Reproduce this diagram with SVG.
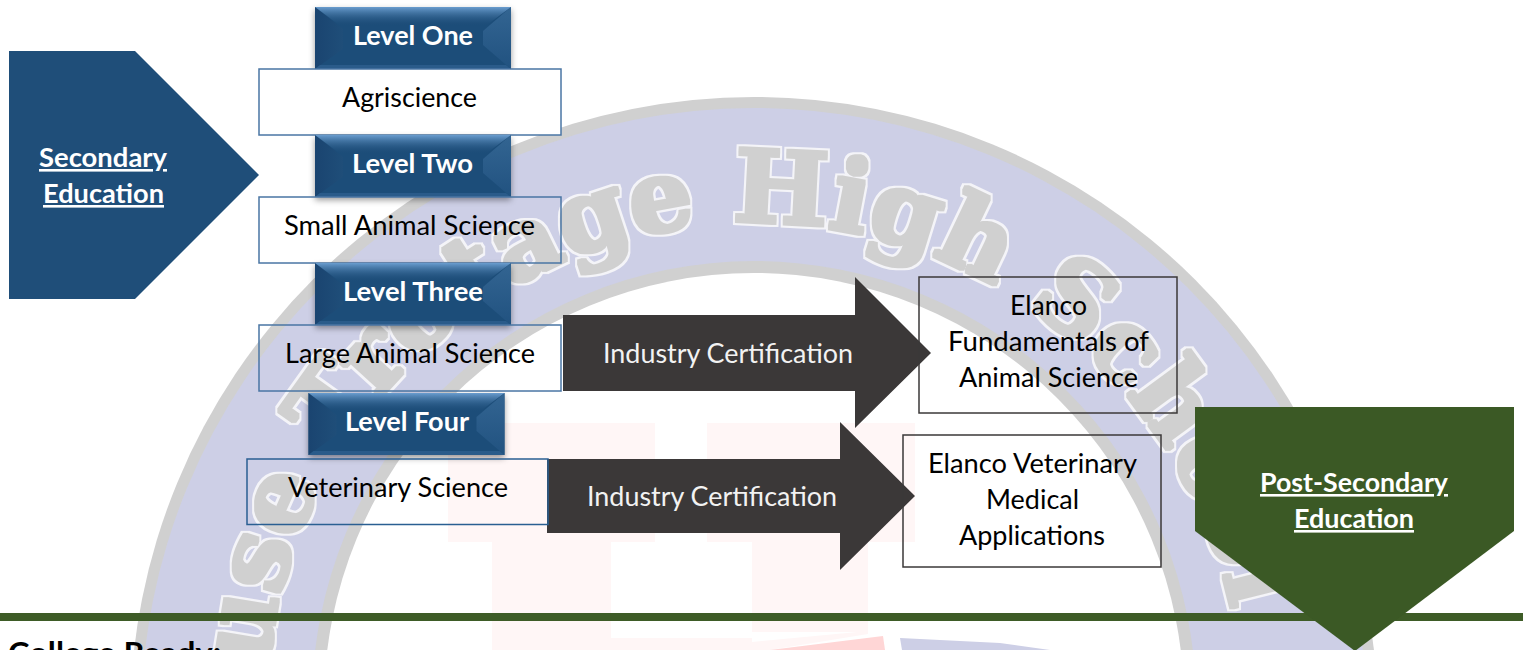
<svg xmlns="http://www.w3.org/2000/svg" xmlns:xlink="http://www.w3.org/1999/xlink" width="1523" height="650" viewBox="0 0 1523 650">
<style>
text{font-family:"Lato","Carlito","Liberation Sans",sans-serif;font-size:26px;text-anchor:start}
.dark{fill:#000}
.light{fill:#f2f2f2}
.bold{font-weight:700;fill:#fff}
.u{text-decoration:underline}
.box{fill:none;stroke:#4a76a4;stroke-width:1.5}
.box4{fill:none;stroke:#2a5f92;stroke-width:1.5}
.ebox{fill:none;stroke:#3b3838;stroke-width:1.5}
.arrow{fill:#3b3838}
.wm{font-family:"DejaVu Serif",serif;font-weight:700;font-size:100px;fill:#d0d0d0;filter:url(#fat)}
</style>
<defs>
<filter id="fat" x="-5%" y="-5%" width="110%" height="110%">
<feMorphology in="SourceAlpha" operator="dilate" radius="3.500" result="outer"/>
<feFlood flood-color="#f4f4f8"/><feComposite in2="outer" operator="in" result="white"/>
<feMorphology in="SourceAlpha" operator="dilate" radius="2" result="inner"/>
<feFlood flood-color="#d0d0d0"/><feComposite in2="inner" operator="in" result="gray"/>
<feMerge><feMergeNode in="white"/><feMergeNode in="gray"/></feMerge>
</filter>
<linearGradient id="top" x1="0" y1="0" x2="0" y2="1"><stop offset="0" stop-color="#6a9dcf"/><stop offset="1" stop-color="#1f4e79" stop-opacity="0.1"/></linearGradient>
<linearGradient id="left" x1="0" y1="0" x2="1" y2="0"><stop offset="0" stop-color="#1a4470"/><stop offset="1" stop-color="#1f4e79"/></linearGradient>
<linearGradient id="right" x1="0" y1="0" x2="0" y2="1"><stop offset="0" stop-color="#336592"/><stop offset="1" stop-color="#215280"/></linearGradient>
<filter id="sh" x="-10%" y="-10%" width="120%" height="135%"><feDropShadow dx="0" dy="3" stdDeviation="3" flood-color="#000" flood-opacity="0.4"/></filter>
<g id="level">
<rect width="196" height="62" fill="#1f4e79" filter="url(#sh)"/>
<polygon points="0,0 28,22 28,42 0,62" fill="url(#left)"/>
<polygon points="196,0 168,24 168,38 196,62" fill="url(#right)"/>
<polygon points="0,0 196,0 172,18 24,18" fill="url(#top)"/>
<polygon points="0,62 5,58 191,58 196,62" fill="#2a5b8a"/>
</g>
<path id="wmarc" d="M312 917A488 488 0 1 1 1235 627"/>
</defs>

<g id="watermark">
<circle cx="754" cy="721" r="624" fill="#d0d0d0"/>
<circle cx="754" cy="721" r="613" fill="#cdcfe6"/>
<circle cx="754" cy="703" r="442" fill="#d0d0d0"/>
<circle cx="754" cy="703" r="430" fill="#fff"/>
<g fill="#fff6f6">
<rect x="448" y="423" width="207" height="119"/>
<rect x="707" y="423" width="208" height="119"/>
<rect x="492" y="542" width="119" height="108"/>
<rect x="752" y="542" width="116" height="90"/>
<polygon points="611,638 752,638 752,642 868,631 868,634 770,650 611,650"/>
</g>
<polygon points="770,650 883,636 885,650" fill="#ffd6d6"/>
<polygon points="900,638 1000,643 1050,650 902,650" fill="#cdcfe6"/>
<text class="wm"><textPath xlink:href="#wmarc" href="#wmarc" startOffset="255">use Tro</textPath></text>
<text class="wm"><textPath xlink:href="#wmarc" href="#wmarc" startOffset="678">tage High School</textPath></text>
</g>

<g id="connectors">
<g id="arrow-level3">
<polygon class="arrow" points="563,315 855,315 855,277 931,353 855,428 855,391 563,391"/>
<text class="light" x="603" y="363" textLength="250" lengthAdjust="spacingAndGlyphs">Industry Certification</text>
</g>
<g id="arrow-level4">
<polygon class="arrow" points="547,459 840,459 840,422 915,496 840,570 840,533 547,533"/>
<text class="light" x="587" y="506" textLength="250" lengthAdjust="spacingAndGlyphs">Industry Certification</text>
</g>
</g>

<g id="secondary-education">
<polygon points="9,51 135,51 259,175 135,299 9,299" fill="#1f4e79"/>
<text class="bold u" x="39" y="167" textLength="128" lengthAdjust="spacingAndGlyphs">Secondary</text>
<text class="bold u" x="43" y="203" textLength="121" lengthAdjust="spacingAndGlyphs">Education</text>
</g>

<g id="level-one">
<use href="#level" x="315" y="7"/>
<text class="bold" x="353" y="45" textLength="120" lengthAdjust="spacingAndGlyphs">Level One</text>
</g>
<g id="agriscience">
<rect class="box" x="259" y="69" width="302" height="66" style="fill:#fff"/>
<text class="dark" x="342" y="107" textLength="135" lengthAdjust="spacingAndGlyphs">Agriscience</text>
</g>
<g id="level-two">
<use href="#level" x="315" y="135"/>
<text class="bold" x="352" y="173" textLength="121" lengthAdjust="spacingAndGlyphs">Level Two</text>
</g>
<g id="small-animal">
<rect class="box" x="259" y="197" width="302" height="66"/>
<text class="dark" x="284" y="235" textLength="251" lengthAdjust="spacingAndGlyphs">Small Animal Science</text>
</g>
<g id="level-three">
<use href="#level" x="315" y="263"/>
<text class="bold" x="343" y="301" textLength="140" lengthAdjust="spacingAndGlyphs">Level Three</text>
</g>
<g id="large-animal">
<rect class="box" x="259" y="325" width="302" height="66"/>
<text class="dark" x="285" y="363" textLength="250" lengthAdjust="spacingAndGlyphs">Large Animal Science</text>
</g>
<g id="level-four">
<use href="#level" x="308.500" y="393"/>
<text class="bold" x="345" y="431" textLength="124" lengthAdjust="spacingAndGlyphs">Level Four</text>
</g>
<g id="veterinary">
<rect class="box4" x="247" y="459" width="301" height="65.500"/>
<text class="dark" x="288" y="497" textLength="220" lengthAdjust="spacingAndGlyphs">Veterinary Science</text>
</g>

<g id="elanco-fundamentals">
<rect class="ebox" x="919" y="277" width="258" height="136"/>
<text class="dark" x="1010" y="315" textLength="77" lengthAdjust="spacingAndGlyphs">Elanco</text>
<text class="dark" x="948" y="351" textLength="201" lengthAdjust="spacingAndGlyphs">Fundamentals of</text>
<text class="dark" x="959" y="387" textLength="179" lengthAdjust="spacingAndGlyphs">Animal Science</text>
</g>
<g id="elanco-veterinary">
<rect class="ebox" x="903" y="435" width="258" height="132"/>
<text class="dark" x="928" y="473" textLength="209" lengthAdjust="spacingAndGlyphs">Elanco Veterinary</text>
<text class="dark" x="986" y="509" textLength="93" lengthAdjust="spacingAndGlyphs">Medical</text>
<text class="dark" x="959" y="545" textLength="146" lengthAdjust="spacingAndGlyphs">Applications</text>
</g>

<rect id="divider" x="0" y="613" width="1523" height="8" fill="#3e5c27"/>

<g id="post-secondary">
<polygon points="1195,407 1514,407 1514,531 1355,651 1195,531" fill="#3b5925"/>
<text class="bold u" x="1260" y="492" textLength="188" lengthAdjust="spacingAndGlyphs">Post-Secondary</text>
<text class="bold u" x="1294" y="528" textLength="120" lengthAdjust="spacingAndGlyphs">Education</text>
</g>

<text id="college-ready" x="8" y="664" style="font-size:30px;font-weight:700;fill:#000" textLength="213" lengthAdjust="spacingAndGlyphs">College Ready:</text>
</svg>
